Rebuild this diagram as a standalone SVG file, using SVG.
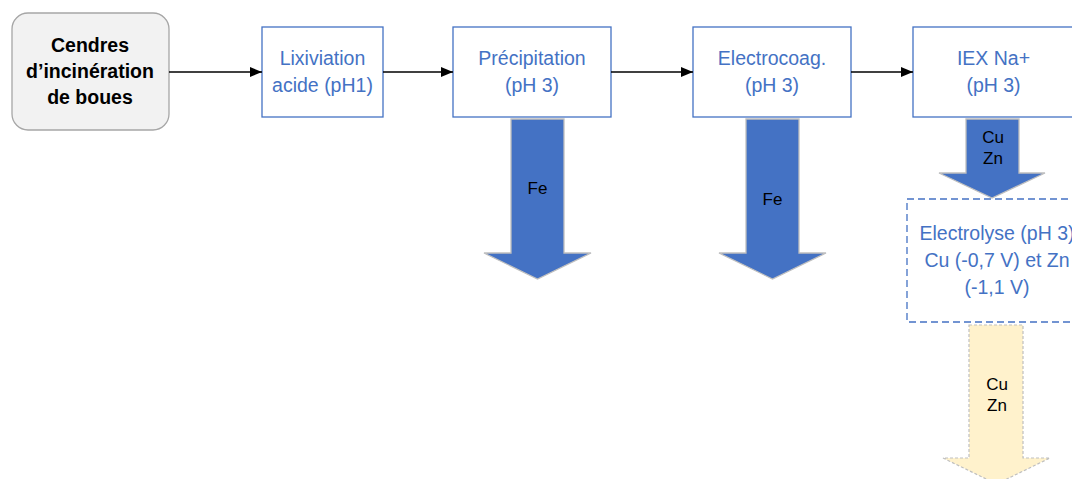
<svg xmlns="http://www.w3.org/2000/svg" width="1072" height="479" viewBox="0 0 1072 479">
<defs>
<style>
.box{fill:#ffffff;stroke:#4472c4;stroke-width:1.3}
.t{font-family:"Liberation Sans",Arial,sans-serif;font-size:19.5px;fill:#4472c4;text-anchor:middle}
.tb{font-family:"Liberation Sans",Arial,sans-serif;font-size:19.5px;font-weight:bold;fill:#000000;text-anchor:middle}
.tl{font-family:"Liberation Sans",Arial,sans-serif;font-size:17px;fill:#000000;text-anchor:middle}
.conn{stroke:#000000;stroke-width:1.6;fill:none}
.blk{fill:#4472c4;stroke:#bfbfbf;stroke-width:1.3}
.yel{fill:#fff2cc;stroke:#bfbfbf;stroke-width:1.2;stroke-dasharray:3,2}
</style>
<marker id="ah" markerWidth="12" markerHeight="10" refX="12" refY="5" orient="auto" markerUnits="userSpaceOnUse">
<path d="M0,0 L12,5 L0,10 Z" fill="#000000"/>
</marker>
</defs>
<rect width="1072" height="479" fill="#ffffff"/>

<g id="n-cendres">
<rect x="12" y="13" width="157" height="117" rx="16" ry="16" fill="#f2f2f2" stroke="#a6a6a6" stroke-width="1.3"/>
<text class="tb" x="90" y="52">Cendres</text>
<text class="tb" x="90" y="78">d’incinération</text>
<text class="tb" x="90" y="104">de boues</text>
</g>

<g id="n-lixiviation">
<rect class="box" x="262" y="27" width="121" height="90"/>
<text class="t" x="322.5" y="65">Lixiviation</text>
<text class="t" x="322.5" y="92">acide (pH1)</text>
</g>

<g id="n-precipitation">
<rect class="box" x="453" y="27" width="158" height="90"/>
<text class="t" x="532" y="65">Précipitation</text>
<text class="t" x="532" y="92">(pH 3)</text>
</g>

<g id="n-electrocoag">
<rect class="box" x="693" y="27" width="158" height="90"/>
<text class="t" x="772" y="65">Electrocoag.</text>
<text class="t" x="772" y="92">(pH 3)</text>
</g>

<g id="n-iex">
<rect class="box" x="913" y="27" width="162" height="90"/>
<text class="t" x="993.5" y="65">IEX Na+</text>
<text class="t" x="993.5" y="92">(pH 3)</text>
</g>

<g id="n-electrolyse">
<rect x="907" y="199" width="185" height="123" fill="#ffffff" stroke="#4472c4" stroke-width="1.3" stroke-dasharray="7,4"/>
<text class="t" x="997" y="240" font-size="20.5">Electrolyse (pH 3)</text>
<text class="t" x="997" y="267" font-size="20.5">Cu (-0,7 V) et Zn</text>
<text class="t" x="997" y="294" font-size="20.5">(-1,1 V)</text>
</g>

<g id="connectors">
<line class="conn" x1="169" y1="72" x2="262" y2="72" marker-end="url(#ah)"/>
<line class="conn" x1="383" y1="72" x2="453" y2="72" marker-end="url(#ah)"/>
<line class="conn" x1="611" y1="72" x2="693" y2="72" marker-end="url(#ah)"/>
<line class="conn" x1="851" y1="72" x2="913" y2="72" marker-end="url(#ah)"/>
</g>

<g id="a-fe1">
<path class="blk" d="M511,119 L564,119 L564,253 L591,253 L537.5,279 L484,253 L511,253 Z"/>
<text class="tl" x="537.5" y="194">Fe</text>
</g>

<g id="a-fe2">
<path class="blk" d="M746,119 L799,119 L799,253 L826,253 L772.5,279 L719,253 L746,253 Z"/>
<text class="tl" x="772.5" y="205">Fe</text>
</g>

<g id="a-cuzn">
<path class="blk" d="M966,119 L1019,119 L1019,173 L1045,173 L992,198 L939,173 L966,173 Z"/>
<text class="tl" x="993" y="143">Cu</text>
<text class="tl" x="993" y="164">Zn</text>
</g>

<g id="a-cuzn-out">
<path class="yel" d="M969,325 L1023,325 L1023,458 L1050,458 L996.5,484 L943,458 L969,458 Z"/>
<text class="tl" x="997" y="390">Cu</text>
<text class="tl" x="997" y="411">Zn</text>
</g>
</svg>
